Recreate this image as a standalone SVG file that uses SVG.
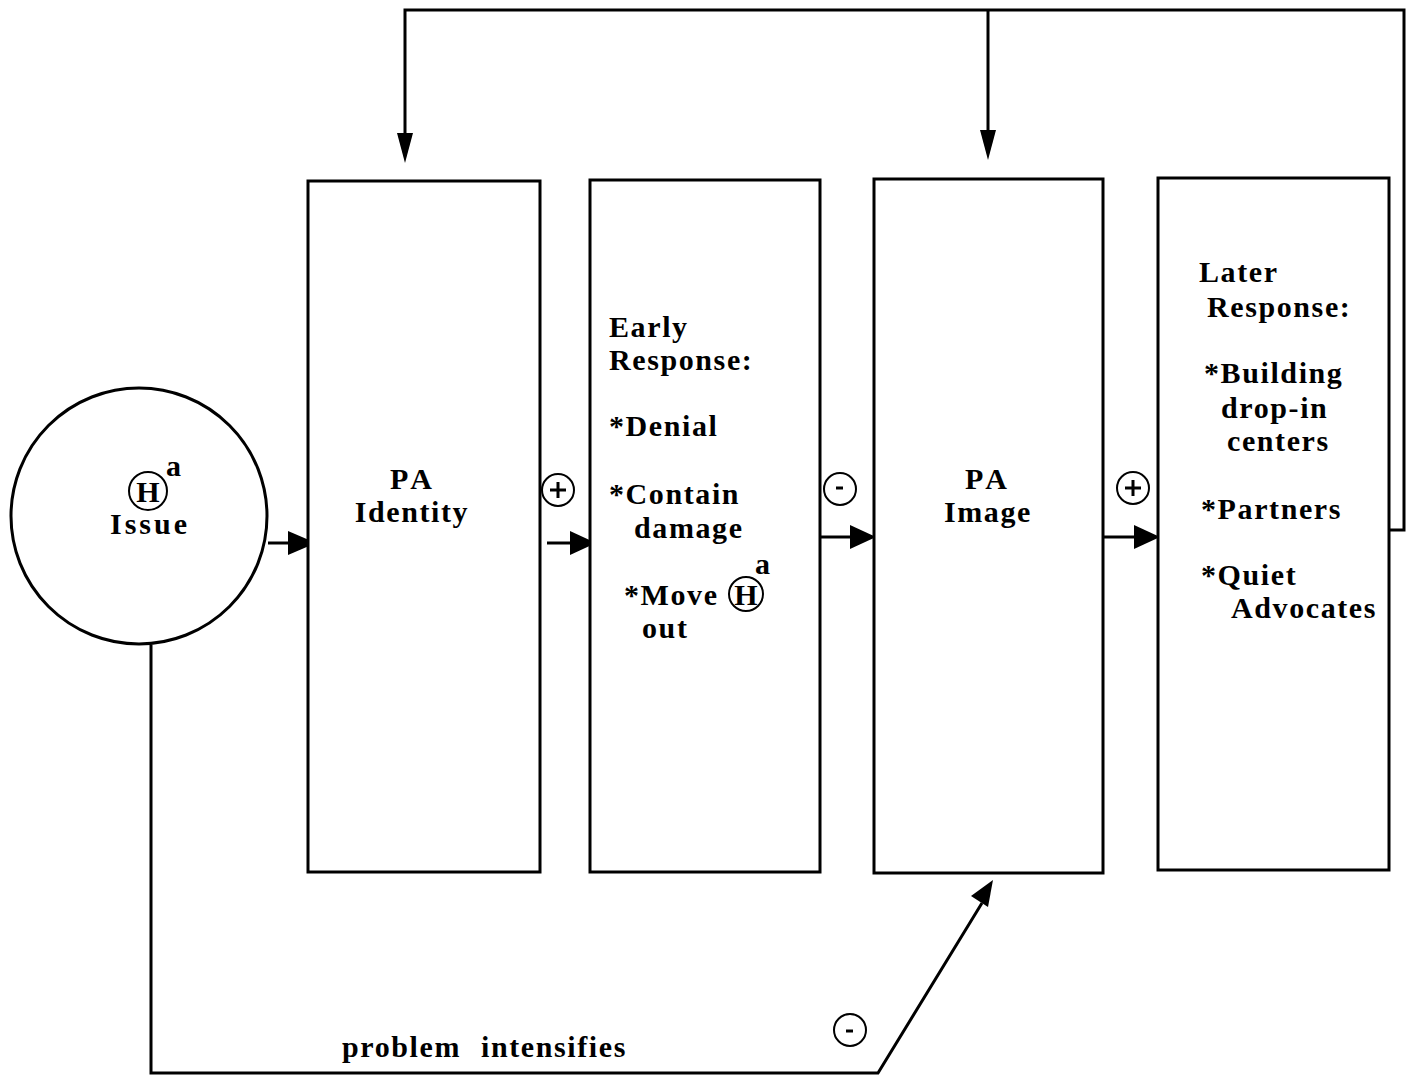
<svg xmlns="http://www.w3.org/2000/svg" width="1415" height="1075" viewBox="0 0 1415 1075">
<style>
.box{fill:#fff;stroke:#000;stroke-width:3}
.ln{fill:none;stroke:#000;stroke-width:3}
.t{font-family:"Liberation Serif","Times New Roman",serif;font-weight:bold;font-size:30px;fill:#000;letter-spacing:1.6px}
.c{text-anchor:middle}
.sg{fill:#fff;stroke:#000;stroke-width:2}
.sm{stroke:#000;stroke-width:3;fill:none}
</style>
<rect width="1415" height="1075" fill="#fff"/>
<g id="connectors">
<path class="ln" d="M268,543 L288,543"/><path d="M288,531 L316,543 L288,555 z"/>
<path class="ln" d="M547,543 L570,543"/><path d="M570,531 L596,543 L570,555 z"/>
<path class="ln" d="M820,537 L850,537"/><path d="M850,525 L876,537 L850,549 z"/>
<path class="ln" d="M1103,537 L1134,537"/><path d="M1134,525 L1160,537 L1134,549 z"/>
<path class="ln" d="M1389,530 L1404,530 L1404,10 L405,10 L405,135"/><path d="M397,133 L405,163 L413,133 z"/>
<path class="ln" d="M988,10 L988,132"/><path d="M980,130 L988,160 L996,130 z"/>
<path class="ln" d="M151,645 L151,1073 L878,1073 L982,903"/><path d="M971,896 L993,880 L988,907 z"/>
<circle class="sg" cx="558" cy="490" r="16"/><path class="sm" d="M550,490 h16 M558,482 v16"/>
<circle class="sg" cx="840" cy="489" r="16"/><path class="sm" d="M836,488 h7"/>
<circle class="sg" cx="1133" cy="488" r="16"/><path class="sm" d="M1125,488 h16 M1133,480 v16"/>
<circle class="sg" cx="850" cy="1030" r="16"/><path class="sm" d="M846,1031 h7"/>
<text class="t" x="342" y="1057">problem<tspan x="481">intensifies</tspan></text>
</g>
<g id="issue">
<circle class="box" cx="139" cy="516" r="128"/>
<circle cx="148" cy="491" r="19" fill="none" stroke="#000" stroke-width="2"/>
<text class="t c" x="148" y="502" style="letter-spacing:0">H</text>
<text class="t" x="166" y="476" style="letter-spacing:0">a</text>
<text class="t c" x="150" y="534" style="letter-spacing:3px">Issue</text>
</g>
<g id="pa-identity">
<rect class="box" x="308" y="181" width="232" height="691"/>
<text class="t c" x="413" y="489" style="letter-spacing:4px">PA</text>
<text class="t c" x="412" y="522">Identity</text>
</g>
<g id="early-response">
<rect class="box" x="590" y="180" width="230" height="692"/>
<text class="t" x="609" y="337">Early</text>
<text class="t" x="609" y="370">Response:</text>
<text class="t" x="609" y="436">*Denial</text>
<text class="t" x="609" y="504">*Contain</text>
<text class="t" x="634" y="538">damage</text>
<text class="t" x="624" y="605">*Move</text>
<circle cx="746" cy="594" r="17" fill="none" stroke="#000" stroke-width="2"/>
<text class="t c" x="746" y="605" style="letter-spacing:0">H</text>
<text class="t" x="755" y="574" style="letter-spacing:0">a</text>
<text class="t" x="642" y="638">out</text>
</g>
<g id="pa-image">
<rect class="box" x="874" y="179" width="229" height="694"/>
<text class="t c" x="988" y="489" style="letter-spacing:4px">PA</text>
<text class="t c" x="988" y="522">Image</text>
</g>
<g id="later-response">
<rect class="box" x="1158" y="178" width="231" height="692"/>
<text class="t" x="1199" y="282">Later</text>
<text class="t" x="1207" y="317">Response:</text>
<text class="t" x="1204" y="383">*Building</text>
<text class="t" x="1221" y="418">drop-in</text>
<text class="t" x="1227" y="451">centers</text>
<text class="t" x="1201" y="519">*Partners</text>
<text class="t" x="1201" y="585">*Quiet</text>
<text class="t" x="1231" y="618">Advocates</text>
</g>
</svg>
